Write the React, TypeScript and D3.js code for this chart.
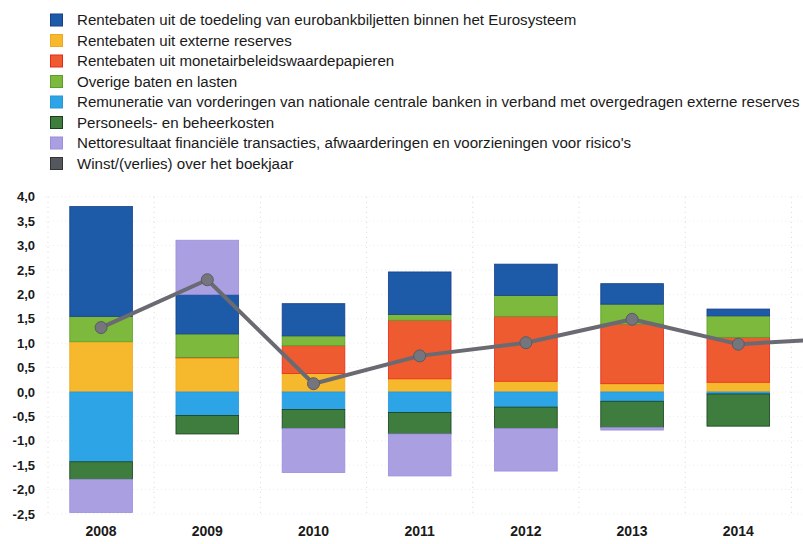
import React from 'react';
import * as d3 from 'd3';

// ---- Data (values in bn EUR) ----
const years = ['2008', '2009', '2010', '2011', '2012', '2013', '2014', '2015'];
const barYears = ['2008', '2009', '2010', '2011', '2012', '2013', '2014'];

const banknotes = [2.25, 0.81, 0.66, 0.87, 0.64, 0.42, 0.14];
const externalReserves = [1.03, 0.70, 0.38, 0.27, 0.22, 0.17, 0.20];
const monetaryPolicy = [0, 0.01, 0.57, 1.20, 1.33, 1.22, 0.92];
const otherIncome = [0.52, 0.48, 0.20, 0.12, 0.43, 0.41, 0.44];
const remuneration = [-1.43, -0.48, -0.36, -0.42, -0.31, -0.19, -0.04];
const staffCosts = [-0.36, -0.38, -0.39, -0.44, -0.44, -0.54, -0.66];
const netResult = [-0.68, 1.11, -0.90, -0.86, -0.87, -0.05, 0];
const profit = [1.32, 2.30, 0.17, 0.74, 1.01, 1.49, 0.98, 1.10];

const yTicks = [4.0, 3.5, 3.0, 2.5, 2.0, 1.5, 1.0, 0.5, 0, -0.5, -1.0, -1.5, -2.0, -2.5];

const legendLabels = [
  'Rentebaten uit de toedeling van eurobankbiljetten binnen het Eurosysteem',
  'Rentebaten uit externe reserves',
  'Rentebaten uit monetairbeleidswaardepapieren',
  'Overige baten en lasten',
  'Remuneratie van vorderingen van nationale centrale banken in verband met overgedragen externe reserves',
  'Personeels- en beheerkosten',
  "Nettoresultaat financiële transacties, afwaarderingen en voorzieningen voor risico's",
  'Winst/(verlies) over het boekjaar',
];

// keys in legend order
const legendKeys = ['banknotes', 'reserves', 'monetary', 'other', 'remuneration', 'staff', 'net', 'profit'];
// stacking order (bottom-up for positives, top-down for negatives)
const stackKeys = ['reserves', 'monetary', 'other', 'banknotes', 'remuneration', 'staff', 'net'];

const fills: Record<string, string> = {
  banknotes: '#1d5aa8',
  reserves: '#f6b82c',
  monetary: '#ef5b30',
  other: '#7cb93c',
  remuneration: '#2ca4e6',
  staff: '#3f7d3e',
  net: '#aa9fe0',
  profit: '#55575f',
};
const strokes: Record<string, string> = {
  banknotes: '#173f8a',
  reserves: '#f0a820',
  monetary: '#e8281c',
  other: '#5aa028',
  remuneration: '#2a96d8',
  staff: '#173f1c',
  net: '#9a8ee0',
  profit: '#333',
};

const rows = barYears.map((year, i) => ({
  year,
  banknotes: banknotes[i],
  reserves: externalReserves[i],
  monetary: monetaryPolicy[i],
  other: otherIncome[i],
  remuneration: remuneration[i],
  staff: staffCosts[i],
  net: netResult[i],
}));

const locale = d3.formatLocale({
  decimal: ',',
  thousands: '.',
  grouping: [3],
  currency: ['€', ''],
  minus: '-',
});
const fmt = locale.format('.1f');

export default function App() {
  const W = 803;
  const H = 544;

  const x = d3
    .scaleBand<string>()
    .domain(years)
    .range([48, 48 + 8 * 106.2])
    .paddingInner(0.41)
    .paddingOuter(0.205);

  const y = d3.scaleLinear().domain([-2.5, 4.0]).range([514, 196.8]);

  const stack = d3
    .stack<any>()
    .keys(stackKeys)
    .offset(d3.stackOffsetDiverging);
  const series = stack(rows as any);

  const line = d3
    .line<number>()
    .x((_, i) => (x(years[i]) as number) + x.bandwidth() / 2)
    .y((d) => y(d));

  const boundaries = years.map((yr) => (x(yr) as number) - (x.step() - x.bandwidth()) / 2);

  return (
    <svg
      width={W}
      height={H}
      style={{ position: 'absolute', left: 0, top: 0, display: 'block', background: '#fff' }}
      fontFamily="'Liberation Sans', Arial, sans-serif"
    >
      {/* legend */}
      <g>
        {legendKeys.map((k, i) => (
          <g key={k} transform={`translate(0, ${20 + i * 20.5})`}>
            <rect
              x={50.5}
              y={-6}
              width={12}
              height={12}
              fill={fills[k]}
              stroke={strokes[k]}
              strokeWidth={1}
            />
            <text x={77} y={0} dy="0.36em" fontSize={15.1} fill="#1a1a1a">
              {legendLabels[i]}
            </text>
          </g>
        ))}
      </g>

      {/* horizontal faint grid */}
      <g>
        {yTicks.map((t) => (
          <line
            key={t}
            x1={45}
            x2={W}
            y1={y(t)}
            y2={y(t)}
            stroke="#ececec"
            strokeWidth={1}
            strokeDasharray="1,3"
          />
        ))}
      </g>
      {/* vertical dotted grid */}
      <g>
        {boundaries.map((bx, i) => (
          <line
            key={i}
            x1={bx}
            x2={bx}
            y1={y(4.0)}
            y2={y(-2.5)}
            stroke="#d6d6d6"
            strokeWidth={1}
            strokeDasharray="1,4"
          />
        ))}
      </g>

      {/* y axis labels */}
      <g>
        {yTicks.map((t) => (
          <text
            key={t}
            x={35}
            y={y(t)}
            dy="0.36em"
            textAnchor="end"
            fontSize={13}
            fontWeight="bold"
            fill="#1a1a1a"
          >
            {fmt(t)}
          </text>
        ))}
      </g>

      {/* bars */}
      <g>
        {series.map((s) => (
          <g key={s.key}>
            {s.map((d, i) => {
              const y0 = y(d[0]);
              const y1 = y(d[1]);
              const h = Math.abs(y0 - y1);
              if (h < 0.3) return null;
              return (
                <rect
                  key={i}
                  x={x(barYears[i]) as number}
                  y={Math.min(y0, y1)}
                  width={x.bandwidth()}
                  height={h}
                  fill={fills[s.key]}
                  stroke={strokes[s.key]}
                  strokeWidth={0.8}
                />
              );
            })}
          </g>
        ))}
      </g>

      {/* x axis labels */}
      <g>
        {barYears.map((yr) => (
          <text
            key={yr}
            x={(x(yr) as number) + x.bandwidth() / 2}
            y={536}
            textAnchor="middle"
            fontSize={14}
            fontWeight="bold"
            fill="#1a1a1a"
          >
            {yr}
          </text>
        ))}
      </g>

      {/* profit line */}
      <path d={line(profit) || ''} fill="none" stroke="#6a6b72" strokeWidth={4} strokeLinejoin="round" />
      <g>
        {profit.map((v, i) => (
          <circle
            key={i}
            cx={(x(years[i]) as number) + x.bandwidth() / 2}
            cy={y(v)}
            r={6}
            fill="#75767d"
            stroke="#5a5b62"
            strokeWidth={1}
          />
        ))}
      </g>
    </svg>
  );
}
